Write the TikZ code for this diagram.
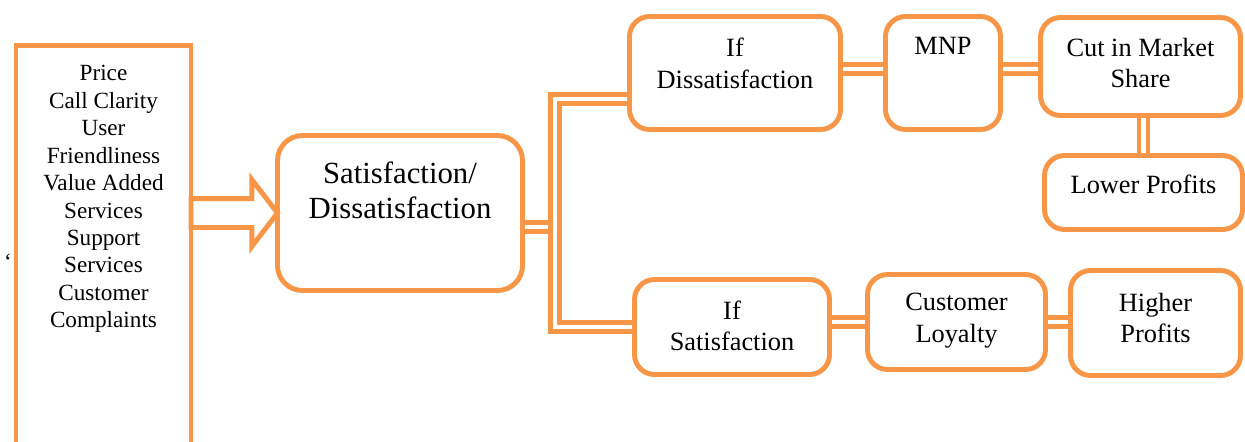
\documentclass[tikz,border=0pt]{standalone}
\usepackage{fontspec}
\setmainfont{Liberation Serif}
\usetikzlibrary{shapes.arrows,backgrounds,positioning}
\definecolor{boxorange}{HTML}{F79646}

\begin{document}
\begin{tikzpicture}[
 box/.style={rectangle,draw=boxorange,line width=2.8pt,fill=white,rounded corners=4mm,outer sep=0pt,inner sep=0pt},
 txt/.style={align=center,inner sep=0pt,font=\fontsize{15}{17.8}\selectfont},
 link/.style={draw=boxorange,line width=2.7pt,double=white,double distance=2.5pt}]
\useasboundingbox (0,0) rectangle (24.9,-8.82);
\draw (0.16,-5.24)node[txt,font=\fontsize{13.2}{15.6}\selectfont](tick){`};
\draw (2.07,-5.26)node[box,sharp corners,minimum width=3.5cm,minimum height=8.69cm,label={[txt,below=0.39cm,font=\fontsize{13.2}{15.6}\selectfont]north:Price\\Call Clarity\\User\\Friendliness\\Value Added\\Services\\Support\\Services\\Customer\\Complaints}](factors){};
\draw (8.0,-4.26)node[box,rounded corners=5mm,minimum width=4.9cm,minimum height=3.1cm,label={[txt,below=0.51cm,font=\fontsize{17.5}{20.4}\selectfont]north:Satisfaction/\\Dissatisfaction}](sat){};
\draw (factors.east |- sat.west)node[single arrow,draw=boxorange,line width=2.8pt,fill=white,anchor=tail,minimum height=1.73cm,inner ysep=0.24cm,inner xsep=0pt,single arrow head extend=0.38cm,single arrow tip angle=105,outer sep=0pt](push){};

% upper branch
\draw (14.7,-1.46)node[box,minimum width=4.22cm,minimum height=2.26cm,label={[txt,below=0.43cm]north:If\\Dissatisfaction}](ifdis){};
\draw (18.86,-1.46)node[box,minimum width=2.3cm,minimum height=2.26cm,label={[txt,below=0.41cm]north:MNP}](mnp){};
\draw (22.81,-1.33)node[box,minimum width=4.0cm,minimum height=1.96cm,label={[txt,below=0.41cm]north:Cut in Market\\Share}](cut){};
\draw (22.87,-3.85)node[box,minimum width=3.96cm,minimum height=1.48cm,label={[txt,below=0.39cm]north:Lower Profits}](lower){};

% lower branch
\draw (14.64,-6.54)node[box,minimum width=3.9cm,minimum height=1.9cm,label={[txt,below=0.42cm]north:If\\Satisfaction}](ifsat){};
\draw (19.13,-6.44)node[box,minimum width=3.56cm,minimum height=1.9cm,label={[txt,below=0.37cm]north:Customer\\Loyalty}](loyal){};
\draw (23.11,-6.46)node[box,minimum width=3.4cm,minimum height=2.1cm,label={[txt,below=0.45cm]north:Higher\\Profits}](higher){};

\coordinate (bus) at (11.1,-6.6);
\coordinate (tap) at (11.05,-4.54);
\begin{scope}[on background layer]
\draw[link] (tap -| sat.east) -- (tap);
\draw[link] ([yshift=-0.52cm]ifdis.west) -| (bus |- ifsat.west) -- (ifsat.west);
\draw[link] ([yshift=0.08cm]ifdis.east) -- ([yshift=0.08cm]mnp.west);
\draw[link] ([yshift=0.08cm]mnp.east) -- ([yshift=-0.05cm]cut.west);
\draw[link] (lower.north |- cut.south) -- (lower.north);
\draw[link] (ifsat.east |- loyal.west) -- (loyal.west);
\draw[link] (loyal.east) -- (loyal.east -| higher.west);
\end{scope}
\end{tikzpicture}
\end{document}
